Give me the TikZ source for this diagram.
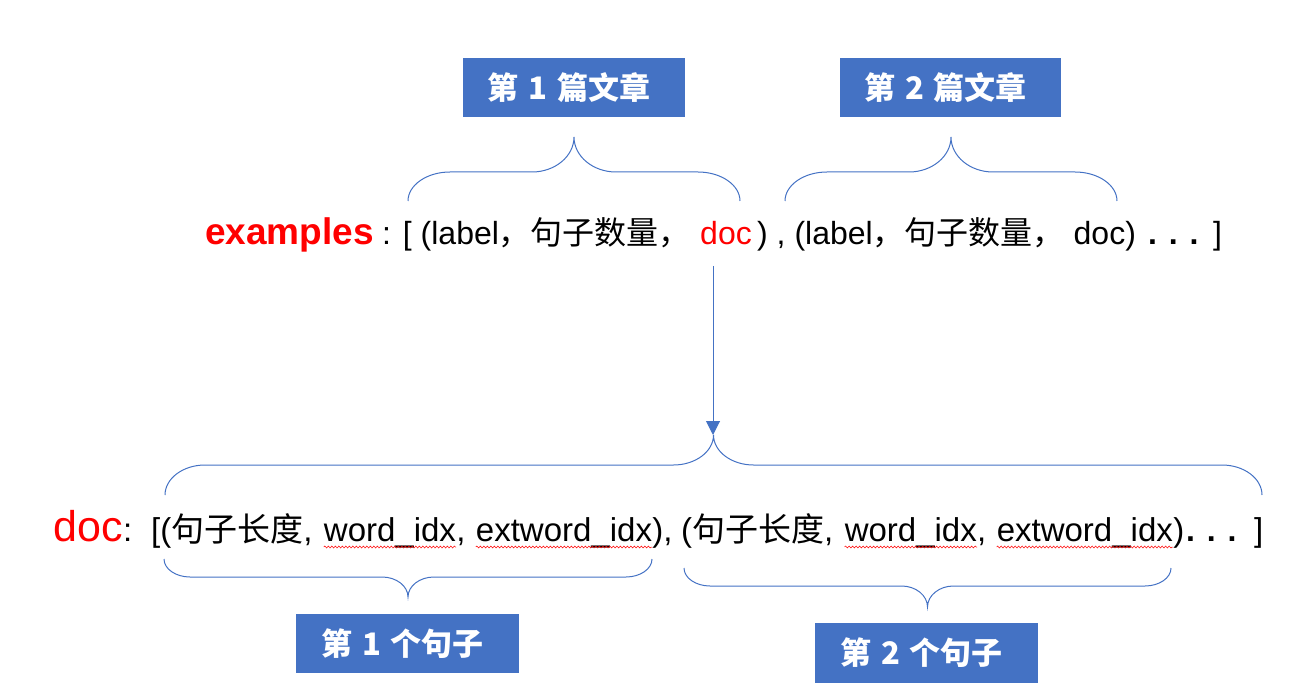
\documentclass[tikz,border=0pt]{standalone}
\usepackage{fontspec}
\setmainfont{Liberation Sans}
\newfontfamily\cjk{Noto Sans CJK SC}
\usetikzlibrary{
    arrows.meta,              % punte delle frecce
    positioning,              % posizionamento dei nodi
    decorations.pathmorphing  % sottolineatura ondulata
}

\definecolor{officeblue}{HTML}{4472C4}

% parentesi graffa: x sinistra, x destra, y estremi, y tratto piano, y punta, raggio
\newcommand{\drawbrace}[6]{%
    \draw[bracepen] (#1,#3)
        .. controls (#1,{#3+0.55*(#4-#3)}) and ({#1+0.45*#6},#4) .. ({#1+#6},#4)
        -- ({(#1+#2)/2-#6},#4)
        .. controls ({(#1+#2)/2-0.45*#6},#4) and ({(#1+#2)/2},{#5+0.55*(#4-#5)}) .. ({(#1+#2)/2},#5)
        .. controls ({(#1+#2)/2},{#5+0.55*(#4-#5)}) and ({(#1+#2)/2+0.45*#6},#4) .. ({(#1+#2)/2+#6},#4)
        -- ({#2-#6},#4)
        .. controls ({#2-0.45*#6},#4) and (#2,{#3+0.55*(#4-#3)}) .. (#2,#3);}

\tikzset{
    titlebox/.style={fill=officeblue, text=white, inner sep=0pt,
        minimum width=222, minimum height=59,
        font=\cjk\bfseries\fontsize{31}{36}\selectfont},
    codetext/.style={anchor=base west, inner sep=0pt,
        font=\fontsize{32}{38}\selectfont},
    lowtext/.style={codetext, font=\fontsize{33}{39}\selectfont},
    bracepen/.style={officeblue, line width=1pt},
    flowarrow/.style={officeblue, line width=1pt,
        -{Triangle[width=14pt,length=14pt]}},
    spellwave/.style={red, line width=0.5pt,
        decorate, decoration={snake, amplitude=1pt, segment length=3.5pt}}
}

\begin{document}
\begin{tikzpicture}[x=1pt, y=-1pt]

        \useasboundingbox (0,0) rectangle (1290,692);

        % titoli in alto
        \node[titlebox] (art1) at (574,88) {\hspace{-10pt}第\hspace{10pt}1\hspace{10pt}篇文章};
        \node[titlebox, minimum width=221] (art2) at (950.5,88) {\hspace{-10pt}第\hspace{10pt}2\hspace{10pt}篇文章};

        % graffe in alto
        \drawbrace{408}{740}{201}{172}{137}{42}
        \drawbrace{785}{1117}{201}{172}{137}{42}

        % riga examples
        \node[codetext, text=red, font=\bfseries\fontsize{37}{43}\selectfont] (examples) at (205,245) {examples};
        \node[codetext] (rowA) at (382,245) {: [ (label{\cjk，句子数量，}};
        \node[codetext, text=red] (docA) at (700,245) {doc};
        \node[codetext] (rowB) at (757,245) {) , (label{\cjk，句子数量，} doc)};
        \node[codetext, font=\bfseries\fontsize{32}{38}\selectfont] (dotsA) at (1148,245) {. . .};
        \node[codetext] (closeA) at (1213,245) {]};

        % freccia verso doc
        \coordinate (arrowstart) at (713,266);
        \coordinate (bigtip) at (713,435);
        \draw[flowarrow] (arrowstart) -- (bigtip);

        % graffa grande
        \drawbrace{165}{1262}{495}{465}{435}{40}

        % riga doc
        \node[codetext, text=red, font=\fontsize{43}{50}\selectfont] (docB) at (53,541) {doc};
        \node[lowtext] (colonB) at (123,541) {:};
        \node[lowtext] (rowC) at (151,541) {[({\cjk 句子长度},};
        \node[lowtext, xshift=11pt] (wordC) at (rowC.base east) {word\_idx};
        \node[lowtext] (commaC) at (wordC.base east) {,};
        \node[lowtext, xshift=10pt] (extC) at (commaC.base east) {extword\_idx};
        \node[lowtext] (endC) at (extC.base east) {),};
        \node[lowtext] (rowD) at (681,541) {({\cjk 句子长度},};
        \node[lowtext, xshift=11pt] (wordD) at (rowD.base east) {word\_idx};
        \node[lowtext] (commaD) at (wordD.base east) {,};
        \node[lowtext, xshift=10pt] (extD) at (commaD.base east) {extword\_idx};
        \node[lowtext] (endD) at (extD.base east) {)};
        \node[codetext, font=\bfseries\fontsize{32}{38}\selectfont] (dotsB) at (1186,541) {. . .};
        \node[lowtext] (closeB) at (1254,541) {]};

        % sottolineature ondulate
        \foreach \w in {wordC, extC, wordD, extD}
            \draw[spellwave] ([yshift=-6pt]\w.base west) -- ([yshift=-6pt]\w.base east);

        % graffe in basso
        \drawbrace{164}{652}{559}{577}{597}{26}
        \drawbrace{684}{1171}{568}{586}{607}{26}

        % titoli in basso
        \node[titlebox, minimum width=223] (sent1) at (407.5,643.5) {\hspace{-10pt}第\hspace{10pt}1\hspace{10pt}个句子};
        \node[titlebox, minimum width=223, minimum height=60] (sent2) at (926.5,653) {\hspace{-10pt}第\hspace{10pt}2\hspace{10pt}个句子};

    \end{tikzpicture}
\end{document}
